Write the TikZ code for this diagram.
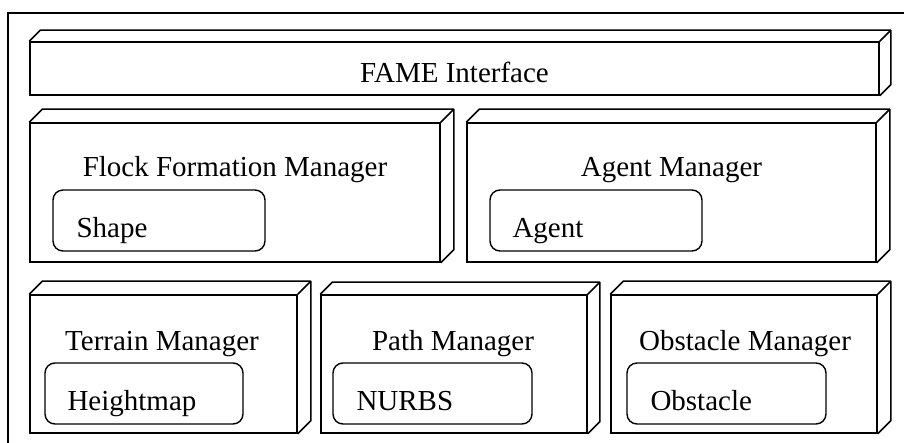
\documentclass[tikz,border=0pt]{standalone}
\usepackage{fontspec}
\setmainfont{Liberation Serif}

\tikzset{
  block/.style={draw, line width=1.6pt, inner sep=0pt},
  part/.style={draw, line width=1.4pt, rounded corners=10pt, inner sep=0pt},
  txt/.style={font=\fontsize{29}{34}\selectfont, inner sep=0pt},
}

\begin{document}
\begin{tikzpicture}[x=1pt,y=-1pt]
\useasboundingbox (0,0) rectangle (904,443);
\draw[line width=1.6pt] (8,443) |- (904,13);

% managers (front faces)
\node[block, minimum width=849pt, minimum height=53pt] (fame) at (454.5,68.5) {};
\node[block, minimum width=410pt, minimum height=139pt] (flock) at (235,192.5) {};
\node[block, minimum width=409pt, minimum height=139pt] (agent) at (671.5,192.5) {};
\node[block, minimum width=267pt, minimum height=138pt] (terrain) at (163.5,364) {};
\node[block, minimum width=266pt, minimum height=138pt] (path) at (454,364) {};
\node[block, minimum width=266pt, minimum height=138pt] (obstacle) at (744,364) {};

% top and side faces
\foreach \n/\d in {fame/11,flock/13,agent/13,terrain/13,path/12,obstacle/13}
  \path[draw,line width=1.6pt,line join=round] (\n.north west) -- ++(\d,-\d)
    -- ([shift={(\d,-\d)}]\n.north east) -- ([shift={(\d,-\d)}]\n.south east)
    -- (\n.south east) (\n.north east) -- ++(\d,-\d);

\node[txt, anchor=base] (fametxt) at (454.5,83) {FAME Interface};
\node[txt, anchor=base] (flocktxt) at (235,177) {Flock Formation Manager};
\node[txt, anchor=base] (agenttxt) at (671.5,177) {Agent Manager};
\node[txt, anchor=base] (terraintxt) at (162,350) {Terrain Manager};
\node[txt, anchor=base] (pathtxt) at (453,350) {Path Manager};
\node[txt, anchor=base] (obstacletxt) at (745,350) {Obstacle Manager};

% parts inside the managers
\node[part, minimum width=212pt, minimum height=61pt] (shape) at (159,220.5) {};
\node[part, minimum width=212pt, minimum height=61pt] (agentpart) at (596,220.5) {};
\node[part, minimum width=198pt, minimum height=61pt] (heightmap) at (144,393.5) {};
\node[part, minimum width=199pt, minimum height=61pt] (nurbs) at (432.5,393.5) {};
\node[part, minimum width=199pt, minimum height=61pt] (obstaclepart) at (726.5,393.5) {};

\node[txt, anchor=base west] (shapetxt) at ([shift={(24,-14)}]shape.south west) {Shape};
\node[txt, anchor=base west] (agentparttxt) at ([shift={(23,-14)}]agentpart.south west) {Agent};
\node[txt, anchor=base west] (heightmaptxt) at ([shift={(23,-14)}]heightmap.south west) {Heightmap};
\node[txt, anchor=base west] (nurbstxt) at ([shift={(24,-14)}]nurbs.south west) {NURBS};
\node[txt, anchor=base west] (obstacleparttxt) at ([shift={(24,-14)}]obstaclepart.south west) {Obstacle};
\end{tikzpicture}
\end{document}
